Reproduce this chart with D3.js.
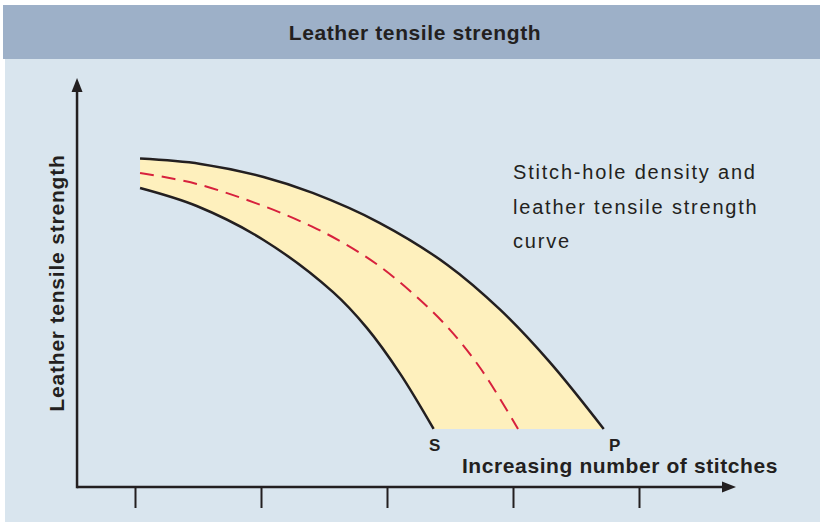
<!DOCTYPE html>
<html>
<head>
<meta charset="utf-8">
<script src="https://cdn.jsdelivr.net/npm/d3@7"></script>
<style>
  body { margin: 0; background: #fff; }
  svg { display: block; font-family: "Liberation Sans", Arial, sans-serif; }
  .bold { font-weight: bold; fill: #231f20; }
  .note { fill: #231f20; }
</style>
</head>
<body>
<div id="chart"></div>
<script>
// stitches (x) vs tensile strength (y)
const upperX = [1.04, 1.52, 2.02, 2.41, 2.94, 3.48, 3.90, 4.29, 4.72];
const upperY = [8.03, 7.90, 7.58, 7.19, 6.46, 5.43, 4.33, 3.06, 1.42];

const lowerX = [1.04, 1.49, 2.02, 2.57, 2.84, 3.10, 3.37];
const lowerY = [7.31, 6.87, 6.04, 4.77, 3.89, 2.79, 1.42];

const meanX = [1.04, 1.49, 2.02, 2.41, 2.68, 2.94, 3.21, 3.48, 3.74, 4.04];
const meanY = [7.68, 7.41, 6.87, 6.36, 5.92, 5.40, 4.72, 3.91, 2.91, 1.42];

const tickValues = [1, 2, 3, 4, 5];
const xExtent = [0.54, 5.77];
const yExtent = [0, 10];

const title = "Leather tensile strength";
const yLabel = "Leather tensile strength";
const xLabel = "Increasing number of stitches";
const noteLines = ["Stitch-hole density and", "leather tensile strength", "curve"];

const width = 820, height = 523;
const ink = "#231f20";

const svg = d3.select("#chart").append("svg")
    .attr("width", width)
    .attr("height", height);

// background bands
svg.append("rect").attr("x", 3).attr("y", 5).attr("width", width - 3).attr("height", 54).attr("fill", "#9db0c8");
svg.append("rect").attr("x", 5).attr("y", 59).attr("width", width - 5).attr("height", height - 60).attr("fill", "#d9e5ee");

svg.append("text")
    .attr("class", "bold")
    .attr("x", 415).attr("y", 40)
    .attr("text-anchor", "middle")
    .attr("font-size", 21)
    .attr("letter-spacing", 0.6)
    .text(title);

const x = d3.scaleLinear().domain([1, 5]).range([135, 639]);
const y = d3.scaleLinear().domain(yExtent).range([487, 78]);

const zip = (xs, ys) => xs.map((v, i) => [v, ys[i]]);
const upper = zip(upperX, upperY);
const lower = zip(lowerX, lowerY);
const mean = zip(meanX, meanY);

const line = d3.line()
    .x(d => x(d[0]))
    .y(d => y(d[1]))
    .curve(d3.curveCatmullRom.alpha(0.5));

// band fill: upper curve, along the base to S, back up the lower curve
const fillPath = line(upper) + "L" + line(lower.slice().reverse()).slice(1) + "Z";
svg.append("path")
    .attr("d", fillPath)
    .attr("fill", "#fef0bd");

svg.append("path")
    .attr("d", line(mean))
    .attr("fill", "none")
    .attr("stroke", "#d7213d")
    .attr("stroke-width", 2)
    .attr("stroke-dasharray", "14,8");

[upper, lower].forEach(pts => {
    svg.append("path")
        .attr("d", line(pts))
        .attr("fill", "none")
        .attr("stroke", ink)
        .attr("stroke-width", 2.5);
});

// axes
const x0 = x(xExtent[0]), y0 = y(0);
const xAxis = d3.axisBottom(x)
    .tickValues(tickValues)
    .tickSize(21)
    .tickFormat("");
const gx = svg.append("g")
    .attr("transform", `translate(0,${y0})`)
    .call(xAxis);
gx.select(".domain").remove();
gx.selectAll(".tick line").attr("stroke", ink).attr("stroke-width", 2);

svg.append("line")
    .attr("x1", x0).attr("y1", y0)
    .attr("x2", x(xExtent[1]) - 12).attr("y2", y0)
    .attr("stroke", ink).attr("stroke-width", 2.5);
svg.append("line")
    .attr("x1", x0).attr("y1", y0 + 1.2)
    .attr("x2", x0).attr("y2", y(yExtent[1]) + 12)
    .attr("stroke", ink).attr("stroke-width", 2.5);

const xt = x(xExtent[1]), yt = y(yExtent[1]);
svg.append("path")
    .attr("d", `M${xt},${y0}L${xt - 14},${y0 - 5.5}L${xt - 14},${y0 + 5.5}Z`)
    .attr("fill", ink);
svg.append("path")
    .attr("d", `M${x0},${yt}L${x0 - 5.5},${yt + 14}L${x0 + 5.5},${yt + 14}Z`)
    .attr("fill", ink);

// labels
svg.append("text")
    .attr("class", "bold")
    .attr("transform", `translate(64,${283}) rotate(-90)`)
    .attr("text-anchor", "middle")
    .attr("font-size", 21)
    .attr("letter-spacing", 0.8)
    .text(yLabel);

svg.append("text")
    .attr("class", "bold")
    .attr("x", 620).attr("y", 473)
    .attr("text-anchor", "middle")
    .attr("font-size", 21)
    .attr("letter-spacing", 0.6)
    .text(xLabel);

svg.append("text")
    .attr("class", "bold")
    .attr("x", x(lowerX[lowerX.length - 1]) + 1).attr("y", 451)
    .attr("text-anchor", "middle")
    .attr("font-size", 17)
    .text("S");
svg.append("text")
    .attr("class", "bold")
    .attr("x", x(upperX[upperX.length - 1]) + 11).attr("y", 451)
    .attr("text-anchor", "middle")
    .attr("font-size", 17)
    .text("P");

svg.append("text")
    .attr("class", "note")
    .attr("font-size", 20)
    .attr("letter-spacing", 1.8)
    .selectAll("tspan")
    .data(noteLines)
    .join("tspan")
    .attr("x", 513)
    .attr("y", (d, i) => 179 + i * 34.5)
    .text(d => d);
</script>
</body>
</html>
